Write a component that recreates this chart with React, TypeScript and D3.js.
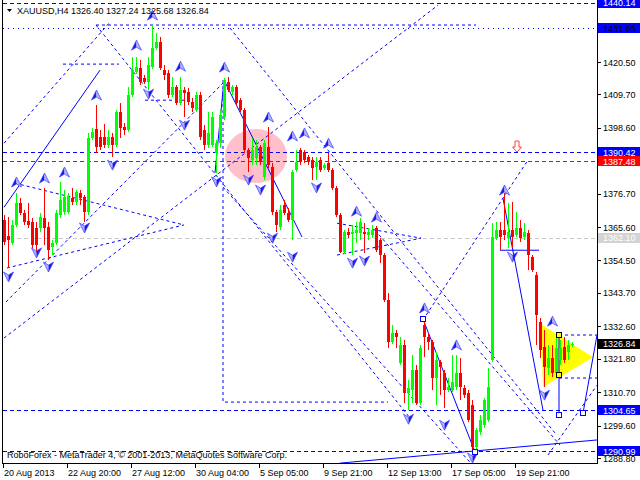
import React from "react";
import * as d3 from "d3";

// XAUUSD H4 bars
const opens = [
  1367.9, 1362.6, 1360.3, 1366.3, 1373.6, 1370.3, 1367.6, 1367.3, 1365.3, 1365.3,
  1368.6, 1365.6, 1358.9, 1360.3, 1369.6, 1370.6, 1370.6, 1375.2, 1373.9, 1376.9,
  1375.6, 1370.6, 1395.2, 1398.2, 1395.5, 1395.5, 1392.9, 1395.5, 1392.9, 1403.8,
  1398.9, 1397.9, 1409.5, 1417.2, 1418.5, 1415.2, 1413.8, 1418.8, 1425.1, 1427.1,
  1417.8, 1416.8, 1409.5, 1412.2, 1406.8, 1411.2, 1410.5, 1407.2, 1404.5, 1409.5,
  1397.9, 1392.9, 1392.9, 1390.2, 1393.5, 1402.2, 1413.8, 1410.5, 1412.2, 1407.8,
  1404.5, 1391.2, 1387.9, 1388.5, 1392.2, 1382.2, 1392.2, 1385.6, 1370.6, 1365.6,
  1372.9, 1370.3, 1367.9, 1384.6, 1391.2, 1390.5, 1388.9, 1387.9, 1385.6, 1387.9,
  1385.2, 1386.9, 1384.6, 1378.6, 1369.6, 1357.3, 1363.9, 1363.3, 1363.6, 1363.6,
  1363.9, 1362.9, 1362.9, 1365.3, 1361.3, 1356.3, 1341.3, 1327.4, 1330.3, 1320.4,
  1326.4, 1310.4, 1311.4, 1318.0, 1307.1, 1333.0, 1329.0, 1327.4, 1315.4, 1320.7,
  1317.0, 1311.4, 1311.4, 1312.4, 1317.0, 1312.1, 1310.4, 1306.4, 1292.4, 1297.4,
  1299.7, 1301.4, 1321.4, 1361.9, 1364.6, 1364.6, 1361.9, 1364.6, 1362.9, 1365.3,
  1362.3, 1363.6, 1355.6, 1349.6, 1334.0, 1325.7, 1318.7, 1322.0, 1317.0, 1321.4,
  1325.7, 1324.0, 1326.4,
];
const highs = [
  1369.6, 1368.9, 1367.9, 1376.9, 1375.2, 1371.3, 1373.6, 1368.6, 1367.3, 1370.3,
  1378.6, 1367.3, 1361.3, 1371.3, 1380.5, 1377.9, 1376.9, 1378.6, 1377.9, 1377.9,
  1376.2, 1396.9, 1398.5, 1406.2, 1397.9, 1399.9, 1397.9, 1396.9, 1404.5, 1406.8,
  1400.2, 1412.2, 1422.1, 1422.1, 1421.1, 1416.2, 1422.1, 1432.8, 1430.1, 1428.8,
  1419.5, 1417.8, 1415.5, 1412.8, 1415.5, 1412.2, 1411.8, 1408.5, 1410.5, 1410.5,
  1399.5, 1403.8, 1403.8, 1394.5, 1404.5, 1415.2, 1415.5, 1412.8, 1412.8, 1408.5,
  1405.2, 1391.9, 1395.2, 1394.5, 1392.9, 1394.5, 1398.9, 1386.9, 1371.3, 1372.9,
  1374.6, 1371.9, 1384.6, 1391.2, 1391.9, 1391.2, 1389.5, 1388.9, 1388.9, 1388.9,
  1386.9, 1390.2, 1385.2, 1379.2, 1370.3, 1364.6, 1365.3, 1366.3, 1367.3, 1368.6,
  1366.9, 1365.3, 1366.3, 1365.9, 1361.9, 1357.0, 1343.6, 1333.0, 1331.3, 1329.0,
  1328.0, 1314.7, 1323.0, 1319.7, 1326.4, 1335.0, 1330.3, 1328.0, 1324.0, 1321.4,
  1318.0, 1315.4, 1323.0, 1323.0, 1322.0, 1313.0, 1311.4, 1308.1, 1298.7, 1303.1,
  1308.7, 1318.7, 1366.9, 1367.3, 1367.3, 1376.9, 1373.6, 1373.9, 1370.6, 1367.9,
  1366.9, 1364.6, 1356.3, 1350.6, 1335.3, 1331.3, 1326.4, 1326.4, 1329.7, 1328.0,
  1329.0, 1328.0, 1327.24,
];
const lows = [
  1359.6, 1352.0, 1359.6, 1365.6, 1369.6, 1366.3, 1365.3, 1358.6, 1357.0, 1363.9,
  1359.6, 1354.6, 1356.3, 1359.6, 1368.6, 1369.6, 1370.0, 1372.9, 1372.9, 1372.9,
  1367.3, 1369.6, 1394.5, 1390.2, 1391.2, 1391.9, 1391.9, 1388.9, 1392.2, 1395.2,
  1396.2, 1397.2, 1408.8, 1416.5, 1412.8, 1413.2, 1411.2, 1418.2, 1424.5, 1417.8,
  1414.5, 1408.5, 1408.8, 1406.2, 1406.2, 1402.2, 1406.2, 1403.8, 1403.8, 1394.5,
  1391.2, 1391.9, 1392.2, 1383.6, 1391.9, 1401.2, 1410.5, 1409.5, 1406.2, 1403.8,
  1390.2, 1383.9, 1386.2, 1386.2, 1386.2, 1381.2, 1385.2, 1369.6, 1363.9, 1364.6,
  1369.6, 1367.3, 1361.3, 1383.9, 1386.2, 1386.9, 1386.2, 1381.2, 1381.2, 1383.9,
  1384.6, 1383.9, 1377.9, 1368.9, 1357.0, 1356.6, 1361.9, 1356.3, 1360.3, 1361.3,
  1357.0, 1361.3, 1361.9, 1357.3, 1353.6, 1340.7, 1325.4, 1326.7, 1325.4, 1319.7,
  1307.1, 1304.7, 1307.1, 1306.4, 1306.4, 1322.4, 1324.7, 1311.4, 1306.4, 1309.7,
  1305.4, 1310.7, 1310.7, 1311.4, 1308.1, 1308.7, 1300.7, 1290.8, 1291.0, 1296.4,
  1298.7, 1300.7, 1320.7, 1361.3, 1357.9, 1361.3, 1358.6, 1358.6, 1362.3, 1360.6,
  1361.3, 1351.3, 1350.6, 1326.4, 1322.0, 1312.4, 1316.4, 1315.7, 1315.7, 1319.7,
  1320.4, 1321.4, 1325.68,
];
const closes = [
  1360.6, 1361.3, 1366.3, 1373.6, 1370.3, 1367.3, 1366.3, 1359.6, 1359.6, 1368.9,
  1365.3, 1357.9, 1360.3, 1370.3, 1374.6, 1375.6, 1375.6, 1373.9, 1377.2, 1375.2,
  1370.6, 1395.2, 1397.2, 1392.2, 1392.2, 1392.9, 1395.5, 1392.9, 1403.8, 1398.5,
  1397.9, 1409.5, 1417.8, 1418.8, 1413.8, 1413.8, 1419.5, 1425.1, 1427.1, 1418.5,
  1416.2, 1409.5, 1412.2, 1406.8, 1411.2, 1410.2, 1407.2, 1405.2, 1409.5, 1395.5,
  1392.9, 1396.9, 1402.2, 1393.5, 1402.9, 1414.5, 1411.2, 1412.2, 1406.8, 1404.5,
  1391.2, 1388.5, 1391.2, 1392.2, 1387.2, 1393.5, 1386.2, 1370.6, 1366.3, 1371.3,
  1370.3, 1367.9, 1383.9, 1387.2, 1387.2, 1387.9, 1387.2, 1385.2, 1387.2, 1384.6,
  1386.2, 1384.6, 1378.6, 1369.6, 1357.3, 1363.9, 1362.9, 1363.9, 1364.6, 1367.3,
  1363.3, 1363.9, 1364.6, 1357.9, 1356.3, 1341.3, 1327.4, 1330.3, 1329.0, 1326.4,
  1310.4, 1312.1, 1318.0, 1307.1, 1325.4, 1329.0, 1327.4, 1315.4, 1321.4, 1319.0,
  1311.4, 1312.4, 1314.0, 1317.0, 1312.4, 1309.7, 1301.4, 1292.4, 1298.1, 1301.4,
  1308.1, 1312.4, 1362.3, 1364.6, 1362.3, 1362.9, 1363.9, 1362.3, 1365.3, 1361.9,
  1363.9, 1356.3, 1351.3, 1336.3, 1324.7, 1319.0, 1322.0, 1317.0, 1325.4, 1325.4,
  1321.4, 1326.4, 1326.84,
];

const timeLabels = [
  "20 Aug 2013", "22 Aug 20:00", "27 Aug 12:00", "30 Aug 04:00", "5 Sep 05:00",
  "9 Sep 21:00", "12 Sep 13:00", "17 Sep 05:00", "19 Sep 21:00",
];
const priceTicks = [
  1288.8, 1299.6, 1310.7, 1321.8, 1332.6, 1343.7, 1354.5, 1365.6, 1376.7,
  1387.5, 1398.6, 1409.7, 1420.5, 1431.6,
];

// horizontal levels across the chart
const levelPrices = [1440.14, 1431.65, 1390.42, 1387.48, 1362.1, 1304.65, 1290.99];

// fractal arrows: [bar, price]
const upFractals = [
  [3, 1380.6], [10, 1381.9], [15, 1383.9], [23, 1409.5], [33, 1426.1], [37, 1436.1],
  [44, 1419.1], [55, 1418.8], [66, 1402.2], [72, 1395.9], [75, 1396.9], [81, 1393.5],
  [88, 1370.9], [93, 1368.9], [105, 1338.7], [113, 1326.4], [125, 1377.9], [137, 1334.3],
];
const downFractals = [
  [1, 1349.0], [8, 1357.0], [11, 1352.3], [20, 1365.3], [27, 1386.2], [36, 1409.8],
  [45, 1399.5], [53, 1380.6], [61, 1381.2], [64, 1377.9], [67, 1361.9], [72, 1355.6],
  [78, 1378.6], [87, 1353.6], [90, 1354.3], [101, 1301.7], [110, 1299.7], [117, 1288.8],
  [127, 1355.6], [135, 1309.7],
];

// analyst drawings: polylines of [bar, price]
const dashedLines = [
  [[0, 1393.5], [26.5, 1433.8]],
  [[23, 1432.8], [118, 1432.8]],
  [[14.75, 1419.8], [28.75, 1419.8]],
  [[23, 1432.8], [101.5, 1302.1]],
  [[35.25, 1407.8], [46.75, 1407.8]],
  [[0, 1328.7], [108.5, 1439.4]],
  [[0.5, 1340.7], [55.5, 1414.5]],
  [[2.75, 1380.2], [45, 1366.3]],
  [[0.75, 1352.0], [45, 1366.3]],
  [[54.75, 1414.5], [54.75, 1307.4], [96, 1307.4]],
  [[56.5, 1431.8], [137.75, 1297.1]],
  [[92.75, 1364.6], [139, 1293.1]],
  [[104.75, 1334.7], [131, 1387.9]],
  [[136, 1289.8], [148.25, 1313.0]],
  [[83.25, 1366.9], [104.25, 1361.9]],
  [[83.25, 1356.3], [104.25, 1361.9]],
  [[54.75, 1378.9], [116.5, 1287.4]],
  [[138.75, 1329.7], [148.25, 1329.7]],
  [[138.75, 1315.4], [148.25, 1315.4]],
];
const solidLines = [
  [[52.75, 1383.6], [55, 1414.5], [74.5, 1362.3]],
  [[0, 1372.2], [24, 1417.8]],
  [[104.75, 1335.0], [117.75, 1290.8]],
  [[124.75, 1375.2], [134.75, 1304.7]],
  [[124, 1357.9], [133.75, 1357.9]],
  [[138.75, 1329.7], [138.75, 1303.1]],
  [[144.75, 1303.7], [148.25, 1329.7]],
  [[84, 1287.1], [148.25, 1294.8]],
];
const squares = [
  [104.75, 1335.0], [117.75, 1290.8], [138.75, 1329.7],
  [138.75, 1316.4], [138.75, 1303.1], [144.75, 1303.7],
];
const triangle = [[134.25, 1333.3], [134.75, 1312.4], [147.25, 1322.3]];
const circleCenter = [63, 1389.2];
const sellArrow = [128.25, 1392.2];

const FONT = "Liberation Sans, Arial, sans-serif";

export default function App() {
  const x = d3.scaleLinear().domain([0, 148]).range([4, 596]);
  const y = d3.scaleLinear().domain([1288.8, 1420.5]).range([458, 62]);
  const line = d3
    .line<number[]>()
    .x((d) => x(d[0]))
    .y((d) => y(d[1]));

  const levelColor = ["#0000ff", "#0000ff", "#0000ff", "#ff0000", "#c8c8c8", "#0000ff", "#0000ff"];
  const levelDash = ["4,3", "1,4", "4,3", "4,3", "4,3", "4,3", "4,3"];

  const last = opens.length - 1;
  const title = `XAUUSD,H4  ${opens[last].toFixed(2)} ${highs[last].toFixed(2)} ${lows[last].toFixed(2)} ${closes[last].toFixed(2)}`;

  const boxes = [
    { p: 1440.14, bg: "#0000ff", fg: "#ffffff" },
    { p: 1431.65, bg: "#0000ff", fg: "#000000" },
    { p: 1390.42, bg: "#0000ff", fg: "#ffffff" },
    { p: 1387.48, bg: "#ff0000", fg: "#ffffff" },
    { p: 1362.1, bg: "#d3d3d3", fg: "#ffffff" },
    { p: closes[last], bg: "#000000", fg: "#ffffff" },
    { p: 1304.65, bg: "#0000ff", fg: "#ffffff" },
    { p: 1290.99, bg: "#0000ff", fg: "#ffffff" },
  ];

  const upArrow = (cx: number, cy: number, k: number) => (
    <g key={"u" + k}>
      <path d={`M${cx},${cy - 5}L${cx},${cy + 2}L${cx - 5},${cy + 5}Z`} fill="#1a1ae6" />
      <path d={`M${cx},${cy - 5}L${cx + 5},${cy + 5}L${cx},${cy + 2}Z`} fill="#b4b4ff" />
      <path d={`M${cx},${cy - 5}L${cx + 5},${cy + 5}L${cx},${cy + 2}L${cx - 5},${cy + 5}Z`} fill="none" stroke="#3c3cff" strokeWidth={0.7} />
    </g>
  );
  const downArrow = (cx: number, cy: number, k: number) => (
    <g key={"d" + k}>
      <path d={`M${cx},${cy + 5}L${cx},${cy - 2}L${cx - 5},${cy - 5}Z`} fill="#b4b4ff" />
      <path d={`M${cx},${cy + 5}L${cx + 5},${cy - 5}L${cx},${cy - 2}Z`} fill="#1a1ae6" />
      <path d={`M${cx},${cy + 5}L${cx + 5},${cy - 5}L${cx},${cy - 2}L${cx - 5},${cy - 5}Z`} fill="none" stroke="#3c3cff" strokeWidth={0.7} />
    </g>
  );

  const sx = x(sellArrow[0]);
  const sy = y(sellArrow[1]);

  return (
    <svg
      width={640}
      height={480}
      style={{ position: "absolute", left: 0, top: 0, background: "#fff" }}
      fontFamily={FONT}
    >
      <defs>
        <clipPath id="plot">
          <rect x={3} y={0} width={594} height={463} />
        </clipPath>
      </defs>
      <rect x={0} y={0} width={640} height={480} fill="#ffffff" />

      <g clipPath="url(#plot)">
        <ellipse cx={x(circleCenter[0])} cy={y(circleCenter[1])} rx={31} ry={27} fill="#ffc0cb" />
        <path d={line(triangle) + "Z"} fill="#ffff00" />

        {levelPrices.map((p, k) => (
          <line
            key={"lv" + k}
            x1={3}
            x2={597}
            y1={Math.round(y(p)) + 0.5}
            y2={Math.round(y(p)) + 0.5}
            stroke={levelColor[k]}
            strokeDasharray={levelDash[k]}
          />
        ))}

        {dashedLines.map((pts, k) => (
          <path key={"dl" + k} d={line(pts) || ""} fill="none" stroke="#0000ff" strokeDasharray="3,3" />
        ))}
        {solidLines.map((pts, k) => (
          <path key={"sl" + k} d={line(pts) || ""} fill="none" stroke="#0000ff" />
        ))}

        <g shapeRendering="crispEdges">
          {opens.map((o, i) => {
            const c = closes[i];
            const col = c >= o ? "#00ff00" : "#ff0000";
            const cx = x(i);
            const top = Math.round(y(Math.max(o, c)));
            const bot = Math.round(y(Math.min(o, c)));
            const hi = Math.round(y(highs[i]));
            const lo = Math.round(y(lows[i]));
            return (
              <g key={"c" + i}>
                <rect x={cx} y={hi} width={1} height={Math.max(1, lo - hi)} fill={col} />
                <rect x={cx - 1} y={top} width={3} height={Math.max(1, bot - top)} fill={col} />
              </g>
            );
          })}
        </g>

        {upFractals.map((d, k) => upArrow(x(d[0]) + 0.5, y(d[1]), k))}
        {downFractals.map((d, k) => downArrow(x(d[0]) + 0.5, y(d[1]), k))}

        {squares.map((d, k) => (
          <rect
            key={"sq" + k}
            x={Math.round(x(d[0])) - 2.5}
            y={Math.round(y(d[1])) - 2.5}
            width={5}
            height={5}
            fill={k === 2 || k === 3 ? "#ffff00" : "#ffffff"}
            stroke={k === 2 || k === 3 ? "#000000" : "#0000ff"}
          />
        ))}

        <path
          d={`M${sx - 2},${sy - 6}H${sx + 2}V${sy}H${sx + 4.5}L${sx},${sy + 5}L${sx - 4.5},${sy}H${sx - 2}Z`}
          fill="#ffffff"
          stroke="#ff4040"
        />

        <text x={7} y={458} fontSize={9} fill="#000000">
          RoboForex - MetaTrader 4, © 2001-2013, MetaQuotes Software Corp.
        </text>
      </g>

      {/* title */}
      <path d="M7,9L12,9L9.5,12Z" fill="#000" />
      <text x={17} y={14} fontSize={9} fill="#000">
        {title}
      </text>

      {/* frame */}
      <g shapeRendering="crispEdges" stroke="#000">
        <line x1={2.5} x2={2.5} y1={0} y2={463} />
        <line x1={597.5} x2={597.5} y1={0} y2={463} />
        <line x1={2} x2={598} y1={463.5} y2={463.5} />
        {priceTicks.map((p) => (
          <line key={"pt" + p} x1={597} x2={601} y1={Math.round(y(p)) + 0.5} y2={Math.round(y(p)) + 0.5} />
        ))}
        {timeLabels.map((t, k) => (
          <line key={"tt" + k} x1={x(k * 16) - 0.5} x2={x(k * 16) - 0.5} y1={463} y2={468} />
        ))}
      </g>

      {priceTicks.map((p) => (
        <text key={"pl" + p} x={603} y={y(p) + 3.5} fontSize={9} fill="#000">
          {p.toFixed(2)}
        </text>
      ))}
      {timeLabels.map((t, k) => (
        <text key={"tl" + k} x={x(k * 16)} y={476} fontSize={9} fill="#000">
          {t}
        </text>
      ))}

      {boxes.map((b, k) => (
        <g key={"bx" + k}>
          <rect x={598} y={Math.round(y(b.p)) - 5} width={42} height={10} fill={b.bg} />
          <text x={603} y={y(b.p) + 3.5} fontSize={9} fill={b.fg}>
            {b.p.toFixed(2)}
          </text>
        </g>
      ))}
    </svg>
  );
}
